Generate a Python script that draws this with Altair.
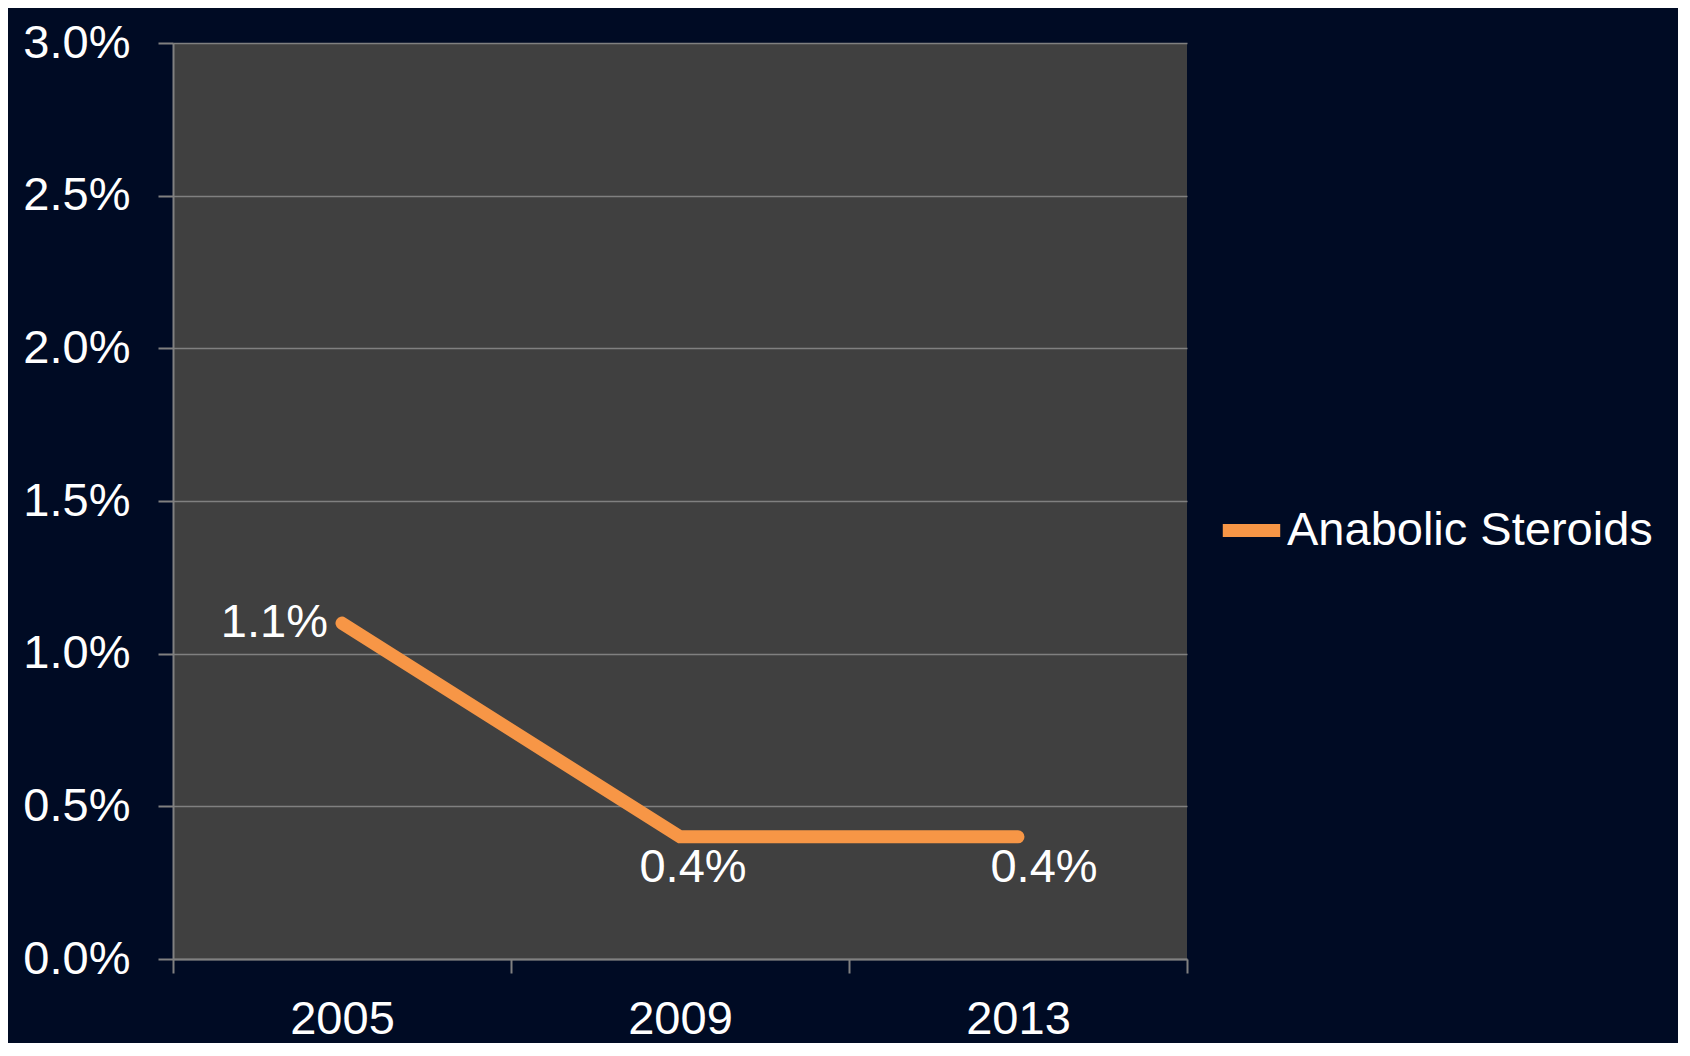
import altair as alt
import pandas as pd

years = ["2005", "2009", "2013"]
values = [1.1, 0.4, 0.4]
labels = ["1.1%", "0.4%", "0.4%"]
series = "Anabolic Steroids"
y_ticks = [0.0, 0.5, 1.0, 1.5, 2.0, 2.5, 3.0]

df = pd.DataFrame({"year": years, "value": values, "label": labels, "series": series})

FONT = "Liberation Sans"
GRID = "#808080"
FS = 47

x_enc = alt.X(
    "year:N",
    scale=alt.Scale(type="band", paddingInner=0, paddingOuter=0),
    axis=alt.Axis(
        title=None, tickBand="extent", tickSize=14, labelPadding=23,
        labelAngle=0, grid=False,
    ),
)
y_enc = alt.Y(
    "value:Q",
    scale=alt.Scale(domain=[0, 3], nice=False),
    axis=alt.Axis(
        title=None, values=y_ticks, tickSize=15, labelPadding=28,
        labelExpr="format(datum.value, '.1f') + '%'",
    ),
)

base = alt.Chart(df).encode(x=x_enc, y=y_enc)

line = base.mark_line(strokeWidth=13, strokeCap="round").encode(
    color=alt.Color(
        "series:N",
        scale=alt.Scale(domain=[series], range=["#F79646"]),
        legend=alt.Legend(
            title=None, orient="none", legendX=1043, legendY=452,
            symbolType="stroke", symbolStrokeWidth=13, symbolSize=3300,
            labelFontSize=FS, labelColor="white", labelFont=FONT,
            labelOffset=0, labelLimit=0, padding=0,
        ),
    )
)

first_label = base.transform_filter(alt.datum.year == "2005").mark_text(
    align="right", baseline="middle", dx=-14, fontSize=FS, font=FONT, color="white"
).encode(text="label:N")

mid_label = base.transform_filter(alt.datum.year == "2009").mark_text(
    align="center", baseline="top", dx=13, dy=8, fontSize=FS, font=FONT, color="white"
).encode(text="label:N")

last_label = base.transform_filter(alt.datum.year == "2013").mark_text(
    align="center", baseline="top", dx=26, dy=8, fontSize=FS, font=FONT, color="white"
).encode(text="label:N")

chart = (
    (line + first_label + mid_label + last_label)
    .properties(
        width=1014, height=916,
        autosize=alt.AutoSizeParams(type="none"),
        padding={"left": 165, "top": 35, "right": 491, "bottom": 84},
        background="#000B24",
    )
    .configure_view(fill="#404040", stroke=None)
    .configure_axis(
        labelFont=FONT, labelFontSize=FS, labelColor="white",
        domainColor=GRID, tickColor=GRID, gridColor=GRID,
        domainWidth=2, tickWidth=2, gridWidth=1.5,
    )
)

chart.save("out.html", embed_options={"renderer": "svg", "actions": False})
